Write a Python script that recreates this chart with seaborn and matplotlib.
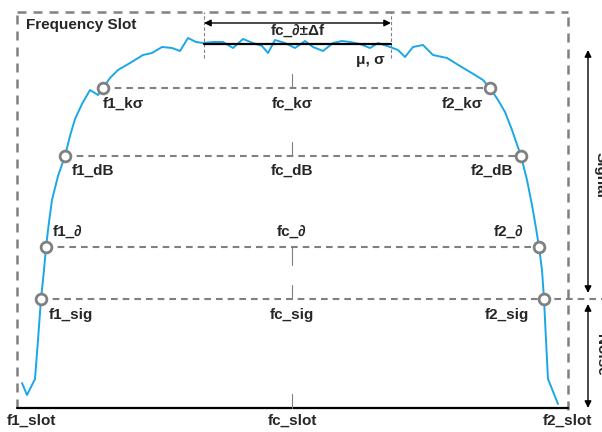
import matplotlib
matplotlib.use('Agg')
import matplotlib.pyplot as plt
import seaborn as sns
import pandas as pd

# 频谱曲线 (频率, 电平) —— 任意单位
freq = [22, 27, 35, 38, 41, 44, 46, 49, 52, 58, 65, 70, 75, 82, 90, 98, 103, 110, 118, 130,
        143, 152, 162, 172, 180, 188, 196, 203, 213, 223, 233, 243, 253, 262, 268, 275, 285,
        295, 305, 313, 323, 333, 342, 350, 360, 370, 378, 390, 398, 405, 413, 423, 433, 447,
        460, 475, 483, 490, 498, 505, 512, 521, 527, 532, 536, 539, 542, 544, 546, 548, 558]
level = [49, 37, 53, 92, 133, 162, 185, 210, 232, 256, 276, 296, 313, 328, 342, 337, 344, 354,
         362, 369, 377, 379, 385, 384, 381, 394, 390, 389, 390, 390, 384, 393, 389, 386, 379,
         392, 389, 384, 391, 385, 381, 389, 391, 390, 388, 384, 389, 385, 382, 375, 385, 387,
         377, 374, 366, 357, 352, 344, 332, 320, 302, 276, 252, 227, 204, 185, 162, 133, 92,
         53, 28]

# 阈值电平及其交点
thr_names = ['kσ', 'dB', '∂', 'sig']
thr_level = [344, 276, 185, 133]
thr_f1 = [103, 65, 46, 41]
thr_f2 = [490, 521, 539, 544]

# 频隙边界
slot_f1, slot_fc, slot_f2 = 17, 292, 568
slot_floor, slot_top = 24, 420
# 中心窗口 fc_∂±Δf 与均值
win_lo, win_hi = 204, 391
mean_level = 388

sns.set_style('white')
plt.rcParams['font.family'] = ['Liberation Sans', 'DejaVu Sans']
plt.rcParams['font.weight'] = 'bold'

fig = plt.figure(figsize=(6.02, 4.32), dpi=100)
ax = fig.add_axes([0, 0, 1, 1])
ax.set_xlim(0, 602)
ax.set_ylim(0, 432)
ax.axis('off')

gray = '#808080'
blue = '#1aa7e8'
fs = 11

# 频隙虚线框
box_kw = dict(color=gray, lw=1.8, ls=(0, (3.6, 2.8)), zorder=1)
ax.plot([slot_f1, slot_f1], [slot_floor, slot_top], **box_kw)
ax.plot([slot_f1, slot_f2], [slot_top, slot_top], **box_kw)
ax.plot([slot_f2, slot_f2], [22, slot_top], **box_kw)
ax.plot([slot_f1, slot_f2], [slot_floor, slot_floor], color='black', lw=1.6, zorder=2)

# 阈值线
dash_kw = dict(color=gray, lw=1.5, ls=(0, (3.2, 2.4)), zorder=1)
for i, name in enumerate(thr_names):
    right = 602 if name == 'sig' else thr_f2[i]
    ax.plot([thr_f1[i], right], [thr_level[i], thr_level[i]], **dash_kw)
    if name == '∂':
        ax.plot([slot_fc, slot_fc], [thr_level[i] - 18, thr_level[i]], color=gray, lw=0.8)
    else:
        ax.plot([slot_fc, slot_fc], [thr_level[i], thr_level[i] + 14], color=gray, lw=0.8)
ax.plot([slot_fc, slot_fc], [slot_floor, slot_floor + 14], color=gray, lw=0.8)

# 曲线
df = pd.DataFrame({'freq': freq, 'level': level})
sns.lineplot(data=df, x='freq', y='level', ax=ax, color=blue, lw=1.4, sort=False, zorder=3)

# 窗口
ax.plot([win_lo, win_lo], [374, slot_top], color=gray, lw=0.8, ls=(0, (3, 2)))
ax.plot([win_hi, win_hi], [374, slot_top], color=gray, lw=0.8, ls=(0, (3, 2)))
ax.plot([win_lo, win_hi], [mean_level, mean_level], color='black', lw=1.6, zorder=4)
ax.annotate('', xy=(win_lo, 409), xytext=(win_hi, 409),
            arrowprops=dict(arrowstyle='<|-|>', color='black', lw=1.0,
                            mutation_scale=10, shrinkA=0, shrinkB=0))
ax.text((win_lo + win_hi) / 2, 401, 'fc_∂±Δf', ha='center', va='center', fontsize=fs)
ax.text(win_hi - 6, 372, 'μ, σ', ha='right', va='center', fontsize=fs)
ax.text(26, 407, 'Frequency Slot', ha='left', va='center', fontsize=fs)

# 交点圆圈
pts = pd.DataFrame({'f': thr_f1 + thr_f2, 'l': thr_level + thr_level})
sns.scatterplot(data=pts, x='f', y='l', ax=ax, s=60, color='white',
                edgecolor=gray, linewidth=2, zorder=5)

# 标签
offs = {'kσ': -16, 'dB': -15, '∂': 15, 'sig': -16}
left_pad = {'kσ': 0, 'dB': 7, '∂': 7, 'sig': 8}
right_pad = {'kσ': 7, 'dB': 8, '∂': 16, 'sig': 15}
for i, name in enumerate(thr_names):
    y = thr_level[i] + offs[name]
    ax.text(thr_f1[i] + left_pad[name], y, 'f1_' + name, ha='left', va='center', fontsize=fs)
    ax.text(slot_fc, y, 'fc_' + name, ha='center', va='center', fontsize=fs)
    ax.text(thr_f2[i] - right_pad[name], y, 'f2_' + name, ha='right', va='center', fontsize=fs)
ax.text(7, 11, 'f1_slot', ha='left', va='center', fontsize=fs)
ax.text(slot_fc, 11, 'fc_slot', ha='center', va='center', fontsize=fs)
ax.text(592, 11, 'f2_slot', ha='right', va='center', fontsize=fs)

# 右侧信号/噪声箭头
arr = dict(arrowstyle='<|-|>', color='black', lw=1.0, mutation_scale=10, shrinkA=0, shrinkB=0)
ax.annotate('', xy=(588, 382), xytext=(588, 139), arrowprops=arr)
ax.annotate('', xy=(588, 128), xytext=(588, 24), arrowprops=arr)
ax.text(601, 257, 'Signal', rotation=-90, ha='center', va='center', fontsize=fs)
ax.text(601, 77, 'Noise', rotation=-90, ha='center', va='center', fontsize=fs)

plt.savefig('out.png', dpi=100)
